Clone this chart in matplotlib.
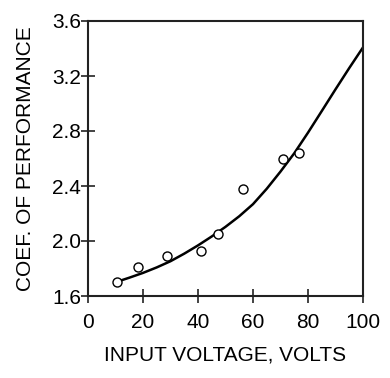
import matplotlib
matplotlib.use("Agg")
import matplotlib.pyplot as plt

# measured data points
volts_pts = [10.4, 18.1, 28.8, 41.1, 47.4, 56.5, 70.8, 76.7]
cop_pts = [1.70, 1.81, 1.89, 1.93, 2.05, 2.38, 2.60, 2.64]

# fitted curve
volts_fit = [10, 15, 20, 25, 30, 35, 40, 45, 50, 55, 60, 65, 70, 75, 80, 85, 90, 95, 100]
cop_fit = [1.70, 1.733, 1.768, 1.808, 1.853, 1.908, 1.968, 2.033, 2.103, 2.180,
           2.268, 2.380, 2.505, 2.638, 2.788, 2.945, 3.103, 3.258, 3.408]

xticks = [0, 20, 40, 60, 80, 100]
yticks = [1.6, 2.0, 2.4, 2.8, 3.2, 3.6]

plt.rcParams['font.family'] = ['Liberation Sans', 'DejaVu Sans']

fig = plt.figure(figsize=(3.9, 3.78), dpi=100)
ax = fig.add_axes([88/390, 82/378, 275/390, 275/378])

ax.plot(volts_fit, cop_fit, color='black', lw=1.8, solid_capstyle='round', solid_joinstyle='round')
ax.plot(volts_pts, cop_pts, 'o', mfc='white', mec='black', mew=1.0, ms=6.5, ls='none')

ax.set_xlim(0, 100)
ax.set_ylim(1.6, 3.6)
ax.set_xticks(xticks)
ax.set_yticks(yticks)
ax.set_xticklabels([str(v) for v in xticks])
ax.set_yticklabels([f"{v:.1f}" for v in yticks])

for s in ax.spines.values():
    s.set_linewidth(1.5)
    s.set_color('#222222')

ax.tick_params(direction='inout', length=10, width=1.2, labelsize=15, color='#222222')
ax.tick_params(axis='y', pad=0)
ax.tick_params(axis='x', pad=7)

ax.set_xlabel('INPUT VOLTAGE, VOLTS', fontsize=15, labelpad=10)
ax.set_ylabel('COEF. OF PERFORMANCE', fontsize=15, labelpad=12)

fig.savefig('out.png', dpi=100)
